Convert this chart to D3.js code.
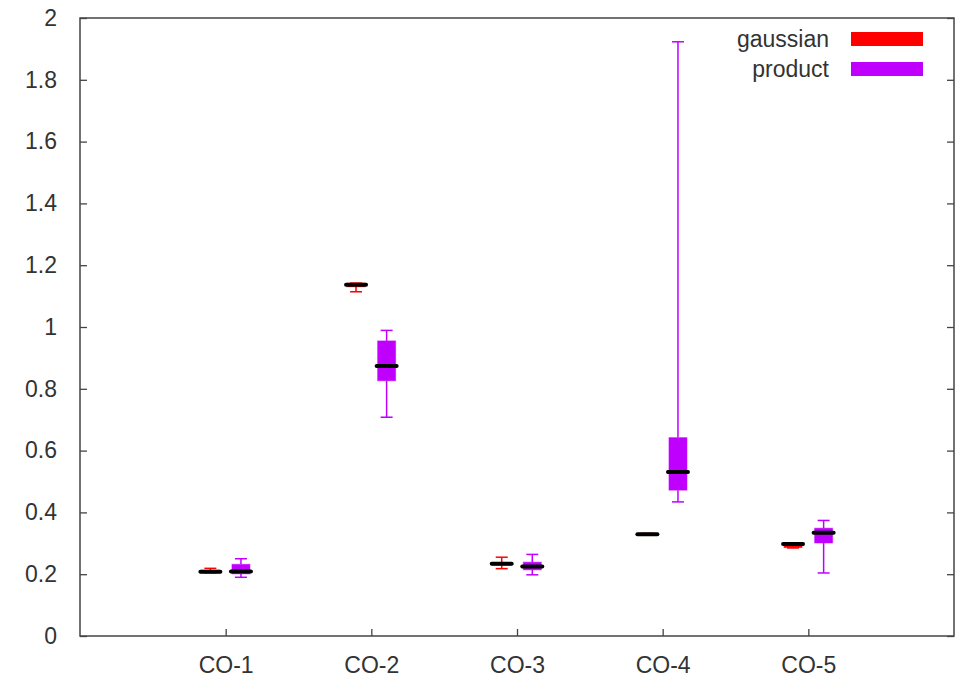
<!DOCTYPE html>
<html>
<head>
<meta charset="utf-8">
<script src="https://cdn.jsdelivr.net/npm/d3@7"></script>
<style>
  html, body { margin: 0; padding: 0; background: #fff; }
  svg { display: block; }
  text { font-family: "Liberation Sans", Arial, sans-serif; fill: #333; }
</style>
</head>
<body>
<svg id="chart" width="963" height="682"></svg>
<script>
const categories = ["CO-1", "CO-2", "CO-3", "CO-4", "CO-5"];
const seriesNames = ["gaussian", "product"];
const seriesColors = ["#ff0000", "#c000ff"];
// [whiskerLow, q1, median, q3, whiskerHigh]
const gaussianStats = [
  [0.205, 0.204, 0.208, 0.213, 0.219],
  [1.114, 1.130, 1.137, 1.142, 1.142],
  [0.218, 0.229, 0.234, 0.238, 0.255],
  [0.327, 0.326, 0.329, 0.332, 0.332],
  [0.285, 0.286, 0.298, 0.300, 0.301]
];
const productStats = [
  [0.190, 0.201, 0.209, 0.232, 0.250],
  [0.708, 0.826, 0.874, 0.955, 0.989],
  [0.198, 0.214, 0.225, 0.239, 0.264],
  [0.434, 0.472, 0.531, 0.642, 1.923],
  [0.204, 0.301, 0.334, 0.349, 0.374]
];
const yTicks = [0, 0.2, 0.4, 0.6, 0.8, 1, 1.2, 1.4, 1.6, 1.8, 2];

const svg = d3.select("#chart");
const margin = {left: 80, right: 9, top: 18, bottom: 46};
const W = 963, H = 682;
const fontSize = 23;
const x = d3.scaleLinear().domain([0, categories.length + 1]).range([margin.left, W - margin.right]);
const y = d3.scaleLinear().domain([0, 2]).range([H - margin.bottom, margin.top]);

const axisColor = "#444";
// y ticks left and right (inward)
const yAxisL = d3.axisLeft(y).tickValues(yTicks).tickSizeInner(-7).tickSizeOuter(0).tickPadding(23)
  .tickFormat(d => d3.format("~g")(d));
const gL = svg.append("g").attr("transform", `translate(${margin.left},0)`).call(yAxisL);
gL.select(".domain").remove();
gL.selectAll("line").attr("stroke", axisColor).attr("stroke-width", 1.3);
gL.selectAll("text").attr("font-size", fontSize).attr("fill", "#333");

const yAxisR = d3.axisRight(y).tickValues(yTicks).tickSizeInner(-7).tickSizeOuter(0).tickFormat("");
const gR = svg.append("g").attr("transform", `translate(${W - margin.right},0)`).call(yAxisR);
gR.select(".domain").remove();
gR.selectAll("line").attr("stroke", axisColor).attr("stroke-width", 1.3);

const xAxis = d3.axisBottom(x).tickValues(d3.range(1, categories.length + 1)).tickSizeInner(-7).tickSizeOuter(0)
  .tickPadding(21).tickFormat(d => categories[d - 1]);
const gX = svg.append("g").attr("transform", `translate(0,${H - margin.bottom})`).call(xAxis);
gX.select(".domain").remove();
gX.selectAll("line").attr("stroke", axisColor).attr("stroke-width", 1.3);
gX.selectAll("text").attr("font-size", fontSize).attr("fill", "#333");

// frame
svg.append("rect")
  .attr("x", margin.left).attr("y", margin.top)
  .attr("width", W - margin.left - margin.right).attr("height", H - margin.top - margin.bottom)
  .attr("fill", "none").attr("stroke", axisColor).attr("stroke-width", 1.5);

// boxes
const offsets = [-0.105, 0.105];
const boxW = 18, capW = 12;
[gaussianStats, productStats].forEach((stats, si) => {
  const col = seriesColors[si];
  const g = svg.append("g");
  stats.forEach((s, i) => {
    const cx = x(i + 1 + offsets[si]);
    const [lo, q1, med, q3, hi] = s;
    g.append("line").attr("x1", cx).attr("x2", cx).attr("y1", y(q3)).attr("y2", y(hi))
      .attr("stroke", col).attr("stroke-width", 1.5);
    g.append("line").attr("x1", cx).attr("x2", cx).attr("y1", y(q1)).attr("y2", y(lo))
      .attr("stroke", col).attr("stroke-width", 1.5);
    g.append("line").attr("x1", cx - capW / 2).attr("x2", cx + capW / 2).attr("y1", y(hi)).attr("y2", y(hi))
      .attr("stroke", col).attr("stroke-width", 1.5);
    g.append("line").attr("x1", cx - capW / 2).attr("x2", cx + capW / 2).attr("y1", y(lo)).attr("y2", y(lo))
      .attr("stroke", col).attr("stroke-width", 1.5);
    g.append("rect").attr("x", cx - boxW / 2).attr("width", boxW)
      .attr("y", y(q3)).attr("height", Math.max(y(q1) - y(q3), 1))
      .attr("fill", col).attr("stroke", col).attr("stroke-opacity", 0.5).attr("stroke-width", 1);
    g.append("line").attr("x1", cx - boxW / 2 - 1).attr("x2", cx + boxW / 2 + 1).attr("y1", y(med)).attr("y2", y(med))
      .attr("stroke", "#000").attr("stroke-width", 4).attr("stroke-linecap", "round");
  });
});

// legend
const legendY = [39, 69];
seriesNames.forEach((name, i) => {
  svg.append("text").attr("x", 829).attr("y", legendY[i]).attr("dy", "0.35em")
    .attr("text-anchor", "end").attr("font-size", fontSize).text(name);
  svg.append("rect").attr("x", 851).attr("y", legendY[i] - 7).attr("width", 72).attr("height", 14)
    .attr("fill", seriesColors[i]);
});
</script>
</body>
</html>
